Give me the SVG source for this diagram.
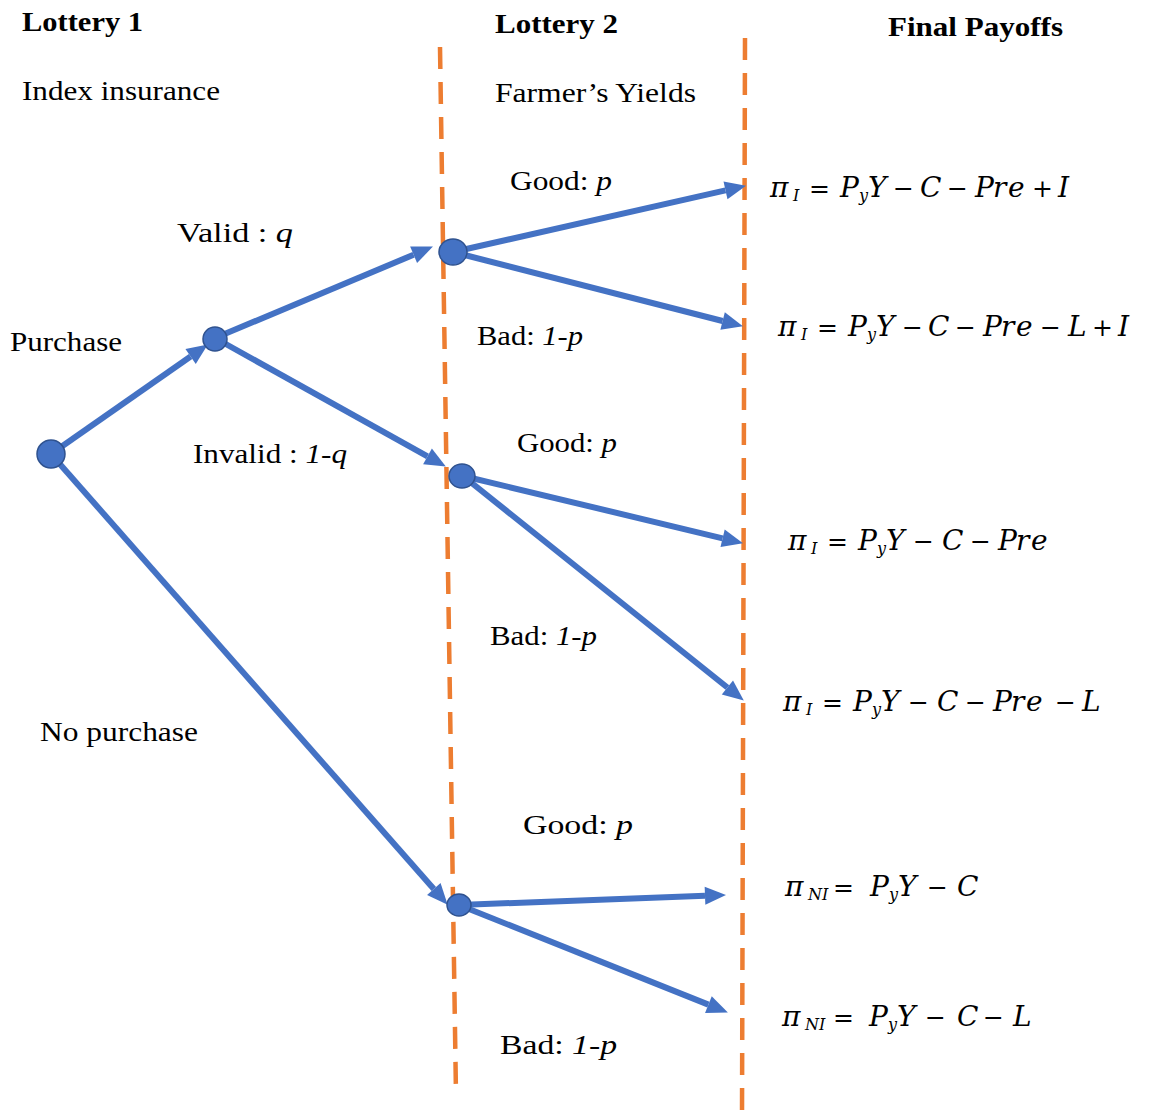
<svg xmlns="http://www.w3.org/2000/svg" width="1157" height="1117" viewBox="0 0 1157 1117">
<style>
  .lbl { font-family: "Liberation Serif", "Times New Roman", serif; font-size: 27px; fill: #000; }
  .hd { font-family: "Liberation Serif", "Times New Roman", serif; font-size: 27px; font-weight: bold; fill: #000; }
  .it { font-style: italic; }
  .eq { font-family: "DejaVu Serif", "Liberation Serif", serif; font-size: 28px; font-style: italic; fill: #000; }
  .sub { font-size: 16px; }
  .op { font-style: normal; font-size: 25px; }
  .dash { stroke: #ED7D31; stroke-width: 4.5; stroke-dasharray: 22 13; fill: none; }
  .edge { stroke: #4472C4; stroke-width: 6; fill: none; marker-end: url(#ah); }
  .node { fill: #4472C4; stroke: #2F528F; stroke-width: 1.5; }
</style>
<defs>
  <marker id="ah" markerUnits="userSpaceOnUse" markerWidth="22" markerHeight="18" refX="0" refY="9" orient="auto" overflow="visible">
    <path d="M0,0 L21,9 L0,18 Z" fill="#4472C4"/>
  </marker>
</defs>
<rect width="1157" height="1117" fill="#fff"/>

<g id="dividers">
  <line class="dash" x1="440" y1="47" x2="456" y2="1095"/>
  <line class="dash" x1="745" y1="38" x2="742" y2="1117"/>
</g>

<g id="connectors">
  <line class="edge" x1="51" y1="454" x2="190.6" y2="356.5"/>
  <line class="edge" x1="215" y1="338" x2="413.6" y2="254.7"/>
  <line class="edge" x1="215" y1="338" x2="427.5" y2="456.3"/>
  <line class="edge" x1="51" y1="454" x2="433.8" y2="889"/>
  <line class="edge" x1="453" y1="252" x2="725.5" y2="190.4"/>
  <line class="edge" x1="453" y1="252" x2="722.6" y2="321"/>
  <line class="edge" x1="463" y1="476" x2="722.6" y2="538.3"/>
  <line class="edge" x1="463" y1="476" x2="727.4" y2="687.5"/>
  <line class="edge" x1="459" y1="905" x2="705" y2="895.8"/>
  <line class="edge" x1="459" y1="905" x2="708.4" y2="1004.6"/>
</g>

<g id="node-root"><circle class="node" cx="51" cy="454" r="14"/></g>
<g id="node-purchase"><circle class="node" cx="215" cy="339" r="12"/></g>
<g id="node-valid"><ellipse class="node" cx="453" cy="252" rx="14" ry="13"/></g>
<g id="node-invalid"><ellipse class="node" cx="462" cy="476" rx="13" ry="12"/></g>
<g id="node-nopurchase"><ellipse class="node" cx="459" cy="905" rx="12" ry="11"/></g>

<g id="labels">
  <text class="hd" x="22" y="31" textLength="121" lengthAdjust="spacingAndGlyphs">Lottery 1</text>
  <text class="lbl" x="22" y="100" textLength="198" lengthAdjust="spacingAndGlyphs">Index insurance</text>
  <text class="hd" x="495" y="33" textLength="123" lengthAdjust="spacingAndGlyphs">Lottery 2</text>
  <text class="hd" x="888" y="36" textLength="175" lengthAdjust="spacingAndGlyphs">Final Payoffs</text>
  <text class="lbl" x="495" y="102" textLength="201" lengthAdjust="spacingAndGlyphs">Farmer’s Yields</text>
  <text class="lbl" x="510" y="190" textLength="102" lengthAdjust="spacingAndGlyphs">Good: <tspan class="it">p</tspan></text>
  <text class="lbl" x="177" y="242" textLength="116" lengthAdjust="spacingAndGlyphs">Valid :  <tspan class="it">q</tspan></text>
  <text class="lbl" x="10" y="351" textLength="112" lengthAdjust="spacingAndGlyphs">Purchase</text>
  <text class="lbl" x="477" y="345" textLength="106" lengthAdjust="spacingAndGlyphs">Bad: <tspan class="it">1-p</tspan></text>
  <text class="lbl" x="193" y="463" textLength="154" lengthAdjust="spacingAndGlyphs">Invalid : <tspan class="it">1-q</tspan></text>
  <text class="lbl" x="517" y="452" textLength="100" lengthAdjust="spacingAndGlyphs">Good: <tspan class="it">p</tspan></text>
  <text class="lbl" x="490" y="645" textLength="107" lengthAdjust="spacingAndGlyphs">Bad: <tspan class="it">1-p</tspan></text>
  <text class="lbl" x="40" y="741" textLength="158" lengthAdjust="spacingAndGlyphs">No purchase</text>
  <text class="lbl" x="523" y="834" textLength="110" lengthAdjust="spacingAndGlyphs">Good:  <tspan class="it">p</tspan></text>
  <text class="lbl" x="500" y="1054" textLength="117" lengthAdjust="spacingAndGlyphs">Bad:  <tspan class="it">1-p</tspan></text>
</g>

<g id="payoffs">
  <text class="eq" y="197"><tspan x="770">π</tspan><tspan class="sub" x="793" y="201">I</tspan><tspan class="op" x="809" y="197">=</tspan><tspan x="840">P</tspan><tspan class="sub" x="859" y="201">y</tspan><tspan x="868" y="197">Y</tspan><tspan class="op" x="893">−</tspan><tspan x="920">C</tspan><tspan class="op" x="947">−</tspan><tspan x="975 993 1008">Pre</tspan><tspan class="op" x="1032">+</tspan><tspan x="1058">I</tspan></text>
  <text class="eq" y="336"><tspan x="778">π</tspan><tspan class="sub" x="801" y="340">I</tspan><tspan class="op" x="817" y="336">=</tspan><tspan x="848">P</tspan><tspan class="sub" x="867" y="340">y</tspan><tspan x="876" y="336">Y</tspan><tspan class="op" x="902">−</tspan><tspan x="928">C</tspan><tspan class="op" x="955">−</tspan><tspan x="983 1001 1016">Pre</tspan><tspan class="op" x="1040">−</tspan><tspan x="1068">L</tspan><tspan class="op" x="1092">+</tspan><tspan x="1118">I</tspan></text>
  <text class="eq" y="550"><tspan x="788">π</tspan><tspan class="sub" x="811" y="554">I</tspan><tspan class="op" x="827" y="550">=</tspan><tspan x="858">P</tspan><tspan class="sub" x="877" y="554">y</tspan><tspan x="886" y="550">Y</tspan><tspan class="op" x="913">−</tspan><tspan x="942">C</tspan><tspan class="op" x="970">−</tspan><tspan x="998 1016 1031">Pre</tspan></text>
  <text class="eq" y="711"><tspan x="783">π</tspan><tspan class="sub" x="806" y="715">I</tspan><tspan class="op" x="822" y="711">=</tspan><tspan x="853">P</tspan><tspan class="sub" x="872" y="715">y</tspan><tspan x="881" y="711">Y</tspan><tspan class="op" x="908">−</tspan><tspan x="937">C</tspan><tspan class="op" x="965">−</tspan><tspan x="993 1011 1026">Pre</tspan><tspan class="op" x="1055">−</tspan><tspan x="1082">L</tspan></text>
  <text class="eq" y="896"><tspan x="785">π</tspan><tspan class="sub" x="808" y="900">NI</tspan><tspan class="op" x="833" y="896">=</tspan><tspan x="870">P</tspan><tspan class="sub" x="889" y="900">y</tspan><tspan x="898" y="896">Y</tspan><tspan class="op" x="927">−</tspan><tspan x="957">C</tspan></text>
  <text class="eq" y="1026"><tspan x="782">π</tspan><tspan class="sub" x="805" y="1030">NI</tspan><tspan class="op" x="833" y="1026">=</tspan><tspan x="869">P</tspan><tspan class="sub" x="888" y="1030">y</tspan><tspan x="897" y="1026">Y</tspan><tspan class="op" x="925">−</tspan><tspan x="957">C</tspan><tspan class="op" x="983">−</tspan><tspan x="1013">L</tspan></text>
</g>
</svg>
